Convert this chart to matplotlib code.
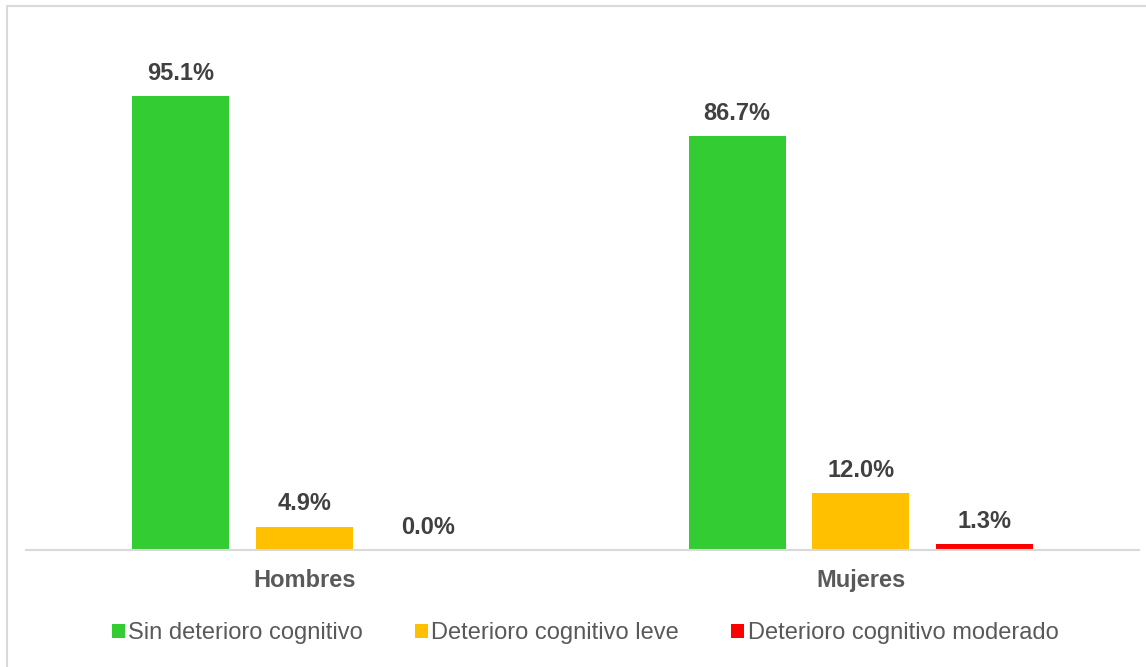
import numpy as np
import matplotlib.pyplot as plt
from matplotlib.patches import Rectangle

plt.rcParams['font.family'] = ['Liberation Sans', 'DejaVu Sans']

groups = ['Hombres', 'Mujeres']
series = ['Sin deterioro cognitivo', 'Deterioro cognitivo leve', 'Deterioro cognitivo moderado']
values = [
    [95.1, 86.7],
    [4.9, 12.0],
    [0.0, 1.3],
]
colors = ['#33CC33', '#FFC000', '#FF0000']

W, H = 1146, 667
fig = plt.figure(figsize=(W / 100, H / 100), dpi=100)
ax = fig.add_axes([26 / W, 1 - 550 / H, (1139 - 26) / W, (550 - 72.6) / H])

x = np.arange(len(groups))
width = 0.175
step = 0.222
for i, (name, vals, c) in enumerate(zip(series, values, colors)):
    pos = x + (i - 1) * step
    ax.bar(pos, vals, width, color=c, label=name, zorder=2)
    for px, v in zip(pos, vals):
        ax.annotate(f'{v:.1f}%', (px, v), xytext=(0, 8), textcoords='offset points',
                    ha='center', va='bottom', fontsize=17, fontweight='bold', color='#404040')

ax.set_xlim(-0.5, 1.5)
ax.set_ylim(0, 100)
ax.set_yticks([])
ax.set_xticks(x)
ax.set_xticklabels(groups, fontsize=17, fontweight='bold', color='#595959')
ax.tick_params(axis='x', length=0, pad=14)
for s in ['top', 'right', 'left']:
    ax.spines[s].set_visible(False)
ax.spines['bottom'].set_color('#D9D9D9')
ax.spines['bottom'].set_linewidth(1.5)

leg = fig.legend(loc='center', bbox_to_anchor=(585 / W, 1 - 633 / H), ncol=3, frameon=False,
                 fontsize=17, handlelength=0.55, handleheight=0.55, handletextpad=0.15,
                 columnspacing=2.2)
for t in leg.get_texts():
    t.set_color('#595959')

# outer chart frame
fig.patches.append(Rectangle((7 / W, -0.01), 1.02 - 7 / W, 1 - 6 / H + 0.01,
                             transform=fig.transFigure, fill=False,
                             edgecolor='#D9D9D9', linewidth=1.5, clip_on=False))

fig.savefig('out.png', dpi=100)
